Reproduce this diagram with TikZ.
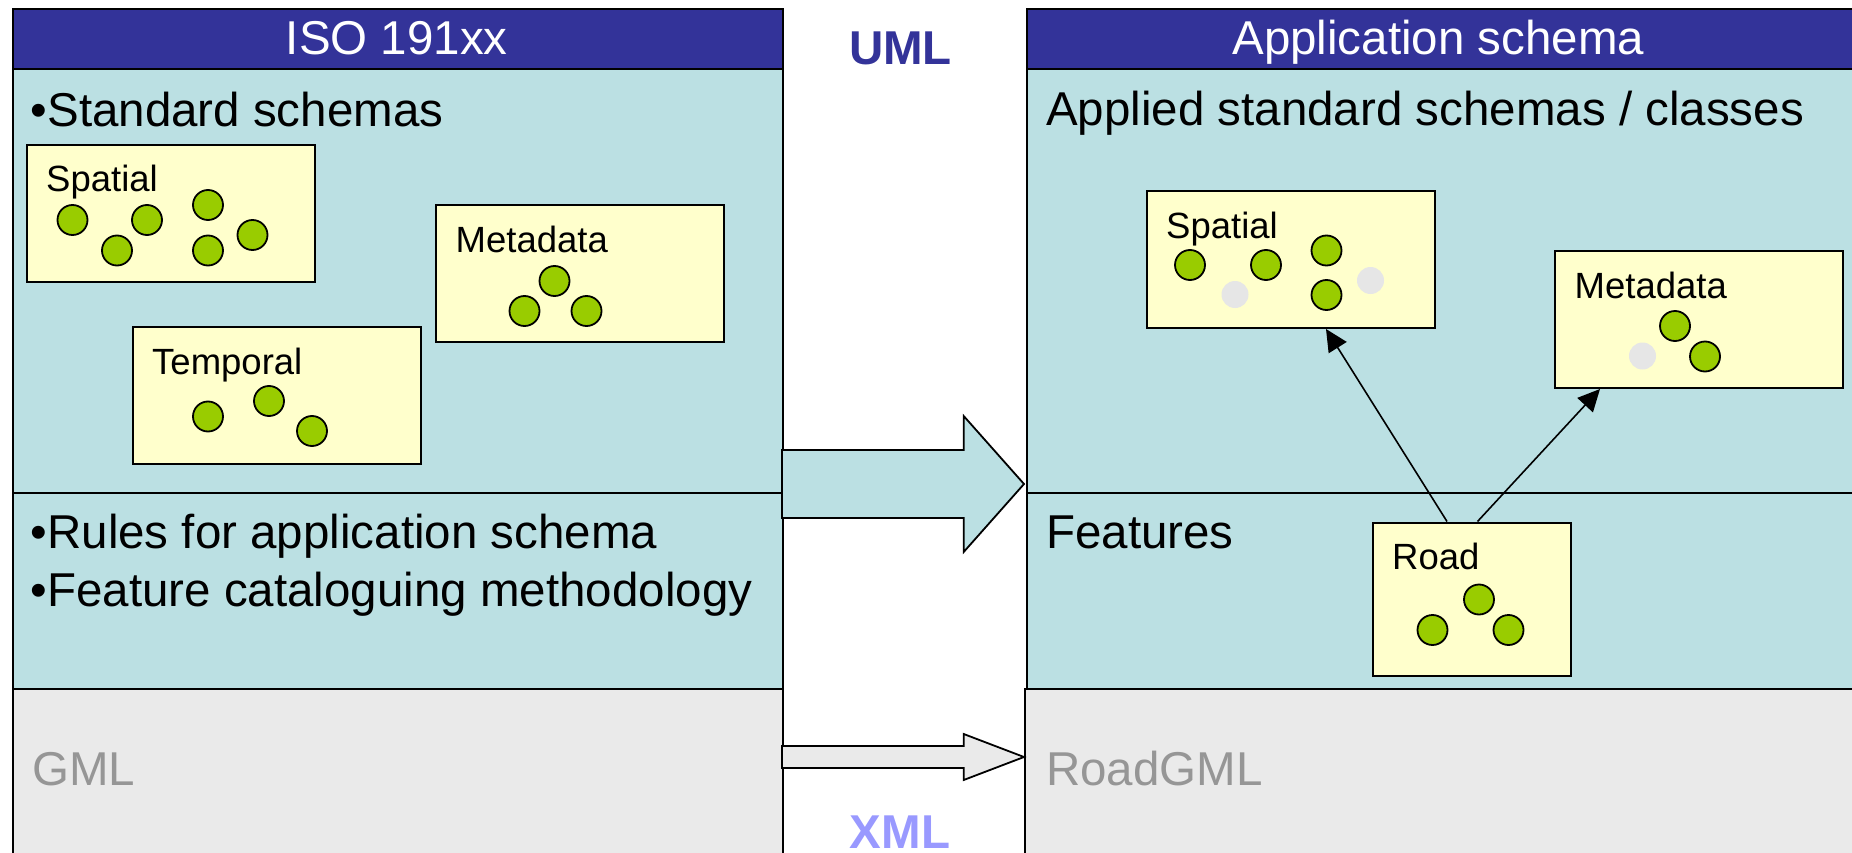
\documentclass[tikz,border=0pt]{standalone}
\usepackage{fontspec}
\setmainfont{Liberation Sans}
\usetikzlibrary{arrows.meta}
\definecolor{headblue}{RGB}{51,51,153}
\definecolor{bodyblue}{RGB}{187,224,227}
\definecolor{xmlgray}{RGB}{234,234,234}
\definecolor{boxyellow}{RGB}{255,255,204}
\definecolor{dotgreen}{RGB}{153,204,0}
\definecolor{dotgray}{RGB}{230,230,230}
\definecolor{gmltext}{RGB}{150,150,150}
\definecolor{xmltext}{RGB}{153,153,255}

\begin{document}
\begin{tikzpicture}[x=1pt, y=-1pt, style={
  panel/.style={
    draw, line width=2pt,
    anchor=north west, inner sep=0pt,
  },
  headstyle/.style={panel, fill=headblue, minimum height=60pt},
  bodystyle/.style={panel, fill=bodyblue},
  xmlstyle/.style={panel, fill=xmlgray, minimum height=180pt},
  schemabox/.style={
    draw, line width=2pt,
    fill=boxyellow,
    anchor=north west, inner sep=0pt,
    minimum width=288pt, minimum height=137pt,
  },
  classdot/.style={
    circle, draw, line width=1.8pt,
    fill=dotgreen,
    minimum size=30pt, inner sep=0pt,
  },
  faintdot/.style={
    circle, fill=dotgray,
    minimum size=27pt, inner sep=0pt,
  },
  bigtext/.style={anchor=base west, inner sep=0pt, font=\fontsize{47.5}{57}\selectfont},
  boxlabel/.style={anchor=base west, inner sep=0pt, font=\fontsize{36.5}{44}\selectfont},
  titletext/.style={bigtext, anchor=base, text=white},
  langtext/.style={anchor=base, inner sep=0pt, font=\bfseries\fontsize{47.5}{57}\selectfont},
  blockarrow/.style={draw, line width=1.8pt, line join=miter},
  deparrow/.style={-{Triangle[length=22pt, width=21pt]}, line width=1.6pt}
}]
\useasboundingbox (0,0) rectangle (1852,853);

% ISO side
\node[xmlstyle, minimum width=770.5pt] (gmlpart) at (11.5,688) {};
\node[bodystyle, minimum width=770.5pt, minimum height=196pt] (rulespart) at (11.5,492) {};
\node[bodystyle, minimum width=770.5pt, minimum height=424pt] (isobody) at (11.5,68) {};
\node[headstyle, minimum width=770.5pt] (isohead) at (11.5,8) {};

% application schema side
\node[xmlstyle, minimum width=840pt] (roadgmlpart) at (1023.5,688) {};
\node[bodystyle, minimum width=835pt, minimum height=196pt] (featpart) at (1025.5,492) {};
\node[bodystyle, minimum width=835pt, minimum height=424pt] (appbody) at (1025.5,68) {};
\node[headstyle, minimum width=835pt] (apphead) at (1025.5,8) {};

\node[titletext] (isotitle) at (396.75,55) {ISO 191xx};
\node[titletext] (apptitle) at (1438.25,55) {Application schema};

\node[bigtext] (stdschemas) at (30.5,127) {•Standard schemas};
\node[bigtext] (rules) at (30.5,548) {•Rules for application schema};
\node[bigtext] (catalog) at (30.5,606) {•Feature cataloguing methodology};
\node[bigtext, text=gmltext] (gml) at (32,785) {GML};
\node[bigtext] (applied) at (1046,126) {Applied standard schemas / classes};
\node[bigtext] (features) at (1046,548) {Features};
\node[bigtext, text=gmltext] (roadgml) at (1046,785) {RoadGML};
\node[langtext, text=headblue] (uml) at (900.5,65) {UML};
\node[langtext, text=xmltext] (xml) at (900,848) {XML};

% schema boxes
\node[schemabox] (lspatial) at (25.5,144) {};
\node[schemabox] (lmeta) at (435,204) {};
\node[schemabox] (ltemporal) at (131.5,326) {};
\node[schemabox] (rspatial) at (1145.5,190) {};
\node[schemabox] (rmeta) at (1554,250) {};
\node[schemabox, minimum width=198pt, minimum height=153pt] (road) at (1371.5,521.5) {};

\node[boxlabel] (lspatiallabel) at ([shift={(20.5,48)}]lspatial.north west) {Spatial};
\node[boxlabel] (lmetalabel) at ([shift={(20.5,48)}]lmeta.north west) {Metadata};
\node[boxlabel] (ltemporallabel) at ([shift={(20.5,48)}]ltemporal.north west) {Temporal};
\node[boxlabel] (rspatiallabel) at ([shift={(20.5,48)}]rspatial.north west) {Spatial};
\node[boxlabel] (rmetalabel) at ([shift={(20.5,48)}]rmeta.north west) {Metadata};
\node[boxlabel] (roadlabel) at ([shift={(20.5,48)}]road.north west) {Road};

% classes
\node[classdot] (ls1) at (72.5,220) {};
\node[classdot] (ls2) at (117,250.5) {};
\node[classdot] (ls3) at (147,220) {};
\node[classdot] (ls4) at (208,205) {};
\node[classdot] (ls5) at (208,250.5) {};
\node[classdot] (ls6) at (252.5,235) {};
\node[classdot] (lm1) at (554.5,281) {};
\node[classdot] (lm2) at (524.5,311) {};
\node[classdot] (lm3) at (586.5,311) {};
\node[classdot] (lt1) at (208,416.5) {};
\node[classdot] (lt2) at (269,401) {};
\node[classdot] (lt3) at (312,431) {};
\node[classdot] (rs1) at (1190,265) {};
\node[faintdot] (rs2) at (1235,294.5) {};
\node[classdot] (rs3) at (1266,265) {};
\node[classdot] (rs4) at (1326.5,250.5) {};
\node[classdot] (rs5) at (1326.5,295) {};
\node[faintdot] (rs6) at (1370.5,280.5) {};
\node[classdot] (rm1) at (1675,326) {};
\node[faintdot] (rm2) at (1642.5,356) {};
\node[classdot] (rm3) at (1705,356.5) {};
\node[classdot] (rd1) at (1479,599.5) {};
\node[classdot] (rd2) at (1432.5,630) {};
\node[classdot] (rd3) at (1508.5,630) {};

% dependencies
\draw[deparrow] ([xshift=75.5pt]road.north west) -- ([xshift=180.5pt]rspatial.south west);
\draw[deparrow] ([xshift=106pt]road.north west) -- ([xshift=46pt]rmeta.south west);

% UML and XML transfer
\coordinate (umlfrom) at (782,484);
\coordinate (umlto) at (1024,484);
\coordinate (xmlfrom) at (782,757);
\coordinate (xmlto) at (1024,757);
\draw[blockarrow, fill=bodyblue]
  (umlfrom) ++(0,-34) -| ++(181.7,-34) -- (umlto)
  -- ++(-60.3,68) |- ++(-181.7,-34) -- cycle;
\draw[blockarrow, fill=xmlgray]
  (xmlfrom) ++(0,-11) -| ++(181.7,-12) -- (xmlto)
  -- ++(-60.3,23) |- ++(-181.7,-12) -- cycle;
\end{tikzpicture}
\end{document}
